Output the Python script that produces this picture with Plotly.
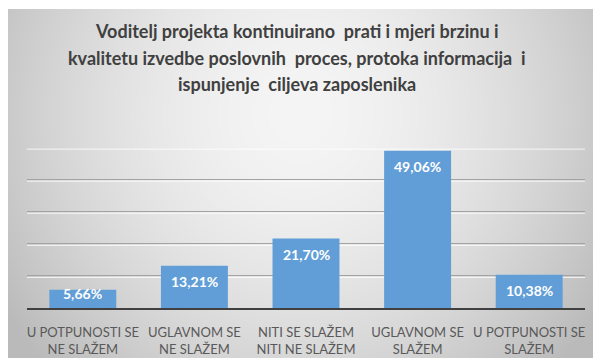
import base64
import struct
import zlib

import numpy as np
import plotly.graph_objects as go

# Survey answers and their shares (%)
categories = [
    "U POTPUNOSTI SE<br>NE SLAŽEM",
    "UGLAVNOM SE<br>NE SLAŽEM",
    "NITI SE SLAŽEM<br>NITI NE SLAŽEM",
    "UGLAVNOM SE<br>SLAŽEM",
    "U POTPUNOSTI SE<br>SLAŽEM",
]
shares = [5.66, 13.21, 21.70, 49.06, 10.38]
y_ticks = [0, 10, 20, 30, 40, 50]

title_lines = [
    "Voditelj projekta kontinuirano  prati i mjeri brzinu i",
    "kvalitetu izvedbe poslovnih  proces, protoka informacija  i",
    "ispunjenje  ciljeva zaposlenika",
]

FONT = "Lato, Open Sans, sans-serif"

W, H = 593, 358
M_L, M_R, M_T, M_B = 27, 8, 147, 50
PLOT_W = W - M_L - M_R
PLOT_H = H - M_T - M_B
Y_MAX = 50.2

# Soft radial grey backdrop of the chart frame, encoded as a PNG
BOX_X, BOX_Y = 8, 9
bw, bh = W - BOX_X, H - BOX_Y
xx, yy = np.meshgrid(np.arange(bw), np.arange(bh))
cx, cy = bw * 0.5, bh * 0.3
d = np.sqrt(((xx - cx) / (bw * 0.55)) ** 2 + ((yy - cy) / (bh * 0.95)) ** 2)
shade = 245 - 50 * np.clip(d, 0, 1.1) ** 1.7
img = np.clip(shade, 0, 255).astype(np.uint8)
img = np.dstack([img, img, img])


def png_uri(arr):
    h, w, _ = arr.shape
    raw = b"".join(b"\x00" + arr[r].tobytes() for r in range(h))

    def chunk(tag, data):
        return (struct.pack(">I", len(data)) + tag + data
                + struct.pack(">I", zlib.crc32(tag + data) & 0xFFFFFFFF))

    png = (b"\x89PNG\r\n\x1a\n"
           + chunk(b"IHDR", struct.pack(">IIBBBBB", w, h, 8, 2, 0, 0, 0))
           + chunk(b"IDAT", zlib.compress(raw, 9))
           + chunk(b"IEND", b""))
    return "data:image/png;base64," + base64.b64encode(png).decode()


fig = go.Figure()
fig.add_trace(go.Bar(
    x=categories,
    y=shares,
    marker=dict(color="#619ed7", line=dict(width=0)),
    hoverinfo="skip",
))

# Value labels just inside the top of each bar (nudged up on short bars)
for cat, val in zip(categories, shares):
    bar_px = val / Y_MAX * PLOT_H
    fig.add_annotation(
        x=cat, y=val, yshift=-16 if bar_px > 30 else -4,
        text=f"{val:.2f}%".replace(".", ","),
        showarrow=False,
        font=dict(family=FONT, size=14, color="white", weight="bold"),
    )

# Chart title, one line per annotation for a looser line spacing
for i, line in enumerate(title_lines):
    fig.add_annotation(
        xref="paper", yref="paper",
        x=(W / 2 - M_L) / PLOT_W,
        y=(H - M_B - (31 + 26.5 * i)) / PLOT_H,
        xanchor="center", yanchor="middle",
        text=f"<b>{line}</b>", showarrow=False,
        font=dict(family=FONT, size=18, color="#404040"),
    )

# Light highlight under each gridline
for v in y_ticks[1:]:
    fig.add_shape(
        type="line", xref="paper", x0=0, x1=1,
        yref="y", ysizemode="pixel", yanchor=v, y0=-1.5, y1=-1.5,
        line=dict(color="rgba(255,255,255,0.8)", width=1),
        layer="below",
    )

fig.add_layout_image(
    source=png_uri(img),
    xref="paper", yref="paper",
    x=(BOX_X - M_L) / PLOT_W, y=(H - M_B - BOX_Y) / PLOT_H,
    sizex=bw / PLOT_W, sizey=bh / PLOT_H,
    xanchor="left", yanchor="top",
    sizing="stretch", layer="below",
)

fig.update_layout(
    width=W, height=H,
    margin=dict(l=M_L, r=M_R, t=M_T, b=M_B),
    paper_bgcolor="white",
    plot_bgcolor="rgba(0,0,0,0)",
    bargap=0.4,
    showlegend=False,
    xaxis=dict(
        showline=True, linecolor="#404040", linewidth=2,
        showgrid=False, ticks="", ticklabelstandoff=11, automargin=False,
        tickfont=dict(family=FONT, size=13, color="#595959"),
    ),
    yaxis=dict(
        range=[0, Y_MAX], tickvals=y_ticks, showticklabels=False,
        showgrid=True, gridcolor="#a3a3a3", gridwidth=1,
        zeroline=False, showline=False, automargin=False,
    ),
)

fig.write_html("out.html")
